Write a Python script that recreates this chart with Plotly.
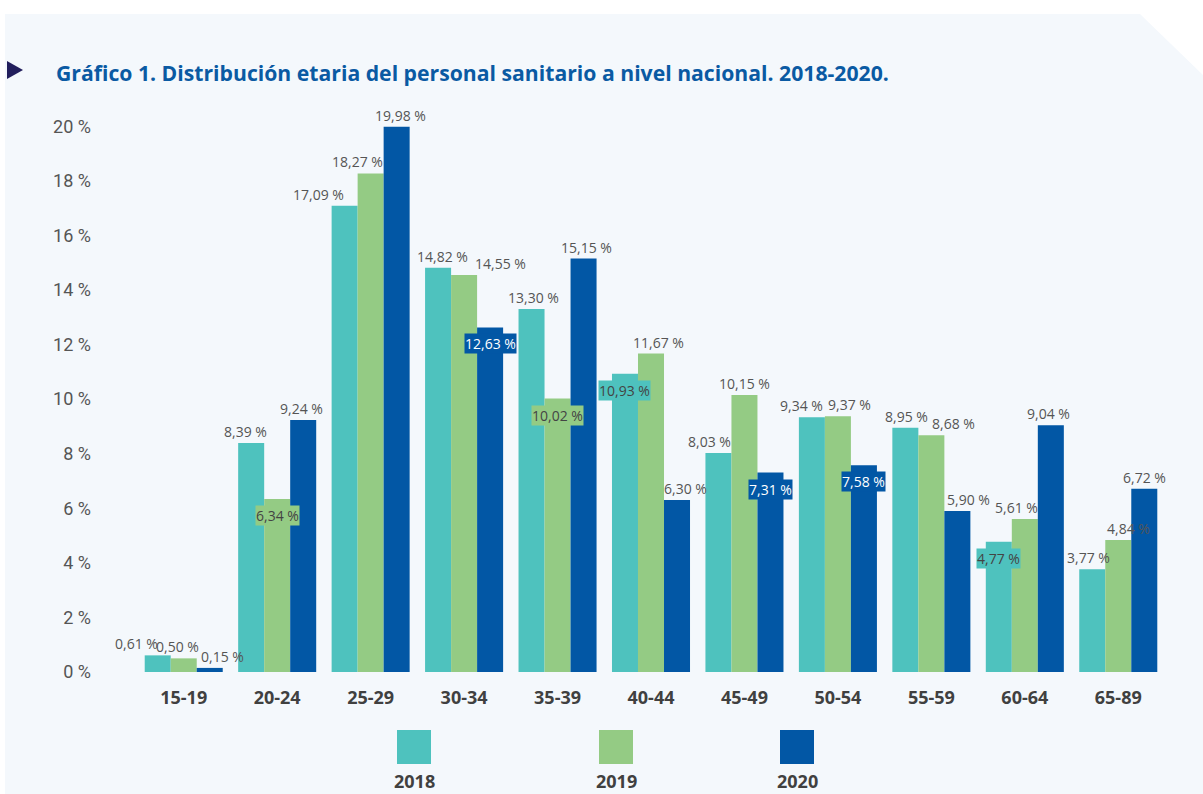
import plotly.graph_objects as go

# Age groups and share of health personnel (%) per year
grupos = ["15-19", "20-24", "25-29", "30-34", "35-39", "40-44",
          "45-49", "50-54", "55-59", "60-64", "65-89"]
anios = ["2018", "2019", "2020"]
v2018 = [0.61, 8.39, 17.09, 14.82, 13.30, 10.93, 8.03, 9.34, 8.95, 4.77, 3.77]
v2019 = [0.50, 6.34, 18.27, 14.55, 10.02, 11.67, 10.15, 9.37, 8.68, 5.61, 4.84]
v2020 = [0.15, 9.24, 19.98, 12.63, 15.15, 6.30, 7.31, 7.58, 5.90, 9.04, 6.72]
yticks = [0, 2, 4, 6, 8, 10, 12, 14, 16, 18, 20]

series = [v2018, v2019, v2020]
colores = ["#4EC2BE", "#94CB84", "#0257A5"]
txt_inside = ["#444444", "#444444", "#FFFFFF"]

# Value labels drawn inside the top of their bar: (year index, group index)
inside = {(1, 1), (2, 3), (1, 4), (0, 5), (2, 6), (2, 7), (0, 9)}

# Horizontal nudges (px) for labels above the bars, to keep neighbours apart
nudge = {
    (0, 0): -21, (1, 0): -6, (2, 0): 13,
    (0, 1): -6, (2, 1): -2,
    (0, 2): -26, (1, 2): -13, (2, 2): 4,
    (0, 3): 4, (1, 3): 36,
    (0, 4): 2, (2, 4): 3,
    (1, 5): 7, (2, 5): 8,
    (0, 6): -9, (1, 6): 0,
    (0, 7): -10, (1, 7): 12,
    (0, 8): 1, (1, 8): 22, (2, 8): 11,
    (1, 9): -8, (2, 9): -2,
    (0, 10): -4, (1, 10): 10, (2, 10): 0,
}

W, H = 1203, 794
L, R, T, B = 137, 38, 99, 122
pw, ph = W - L - R, H - T - B
BARGAP = 0.165
bar_px = pw / len(grupos) * (1 - BARGAP) / 3


def px(x):
    return (x - L) / pw


def py(y):
    return (H - B - y) / ph


def fmt(v):
    return f"{v:.2f} %".replace(".", ",")


fig = go.Figure()
for k, (anio, vals) in enumerate(zip(anios, series)):
    fig.add_trace(go.Bar(
        x=grupos, y=vals, name=anio,
        marker=dict(color=colores[k], line=dict(width=0)),
        showlegend=False, hoverinfo="x+y",
    ))

annotations = []
for k, vals in enumerate(series):
    for i, v in enumerate(vals):
        base = (k - 1) * bar_px
        if (k, i) in inside:
            annotations.append(dict(
                x=grupos[i], y=v, xref="x", yref="y", xshift=base,
                yanchor="top", yshift=-6, showarrow=False,
                text=fmt(v), bgcolor=colores[k], borderpad=0,
                font=dict(family="Open Sans", size=14, color=txt_inside[k]),
            ))
        else:
            annotations.append(dict(
                x=grupos[i], y=v, xref="x", yref="y",
                xshift=base + nudge.get((k, i), 0),
                yanchor="bottom", yshift=0, showarrow=False,
                text=fmt(v),
                font=dict(family="Open Sans", size=14, color="#555555"),
            ))

# Title
annotations.append(dict(
    x=px(54), y=py(72), xref="paper", yref="paper", xanchor="left", yanchor="middle",
    showarrow=False,
    text="<b>Gráfico 1. Distribución etaria del personal sanitario a nivel nacional. 2018-2020.</b>",
    font=dict(family="Open Sans", size=21.2, color="#0A5AA3"),
))

shapes = [
    # panel background with clipped corner
    dict(type="path", xref="paper", yref="paper", layer="below",
         path=f"M {px(5)},{py(14)} L {px(1140)},{py(14)} L {px(1203)},{py(75)} "
              f"L {px(1203)},{py(794)} L {px(5)},{py(794)} Z",
         fillcolor="#F4F8FC", line=dict(width=0)),
    # title marker
    dict(type="path", xref="paper", yref="paper",
         path=f"M {px(7)},{py(61)} L {px(23)},{py(70)} L {px(7)},{py(79)} Z",
         fillcolor="#221E5C", line=dict(width=0)),
]

# Legend: colour squares with the year underneath
leg_x = [414, 616, 797]
for k, anio in enumerate(anios):
    cx = leg_x[k]
    shapes.append(dict(type="rect", xref="paper", yref="paper",
                       x0=px(cx - 17), x1=px(cx + 17), y0=py(764), y1=py(730),
                       fillcolor=colores[k], line=dict(width=0)))
    annotations.append(dict(x=px(cx), y=py(781), xref="paper", yref="paper",
                            xanchor="center", yanchor="middle", showarrow=False,
                            text=f"<b>{anio}</b>",
                            font=dict(family="Open Sans", size=18, color="#404040")))

fig.update_layout(
    width=W, height=H, margin=dict(l=L, r=R, t=T, b=B),
    paper_bgcolor="#FFFFFF", plot_bgcolor="rgba(0,0,0,0)",
    barmode="group", bargap=BARGAP, bargroupgap=0,
    separators=",.",
    annotations=annotations, shapes=shapes,
    xaxis=dict(type="category", range=[-0.5, len(grupos) - 0.5], autorange=False,
               showgrid=False, zeroline=False, showline=False,
               ticks="", ticklabelstandoff=13,
               tickfont=dict(family="Open Sans", size=18, color="#404040", weight="bold")),
    yaxis=dict(range=[0, 21], autorange=False, tickvals=yticks,
               ticktext=[f"{t} %" for t in yticks],
               showgrid=False, zeroline=False, showline=False, ticks="",
               ticklabelstandoff=45,
               tickfont=dict(family="Roboto", size=18, color="#555555")),
)

fig.write_html("out.html")
